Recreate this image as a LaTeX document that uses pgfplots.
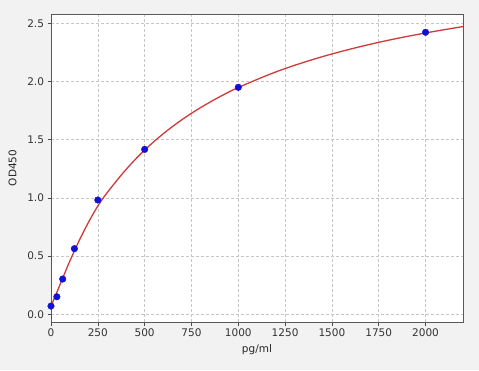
\documentclass[border=0pt]{standalone}
\usepackage{fontspec}
\setmainfont{DejaVu Sans}
\usepackage{pgfplots}
\pgfplotsset{compat=1.18}
\definecolor{bg}{HTML}{F2F2F2}
\definecolor{curvered}{HTML}{D03A3A}
\definecolor{ptblue}{HTML}{1010D8}
\begin{document}
\begin{tikzpicture}[x=1pt,y=1pt]
\fill[bg] (0,0) rectangle (479,370);
\begin{axis}[
  at={(51pt,48pt)}, anchor=south west,
  scale only axis, width=412pt, height=308pt,
  xmin=0, xmax=2200, ymin=-0.066, ymax=2.58,
  xtick={0,250,500,750,1000,1250,1500,1750,2000},
  ytick={0,0.5,1.0,1.5,2.0,2.5},
  yticklabel style={/pgf/number format/.cd,fixed,fixed zerofill,precision=1},
  xticklabel style={/pgf/number format/.cd,fixed,1000 sep={}},
  /pgf/number format/assume math mode=true,
  tick label style={font=\fontsize{10.5}{12}\selectfont, text=black!80},
  label style={font=\fontsize{10.5}{12}\selectfont, text=black!85},
  xlabel={pg/ml}, ylabel={OD450},
  xlabel style={yshift=-1pt},
  ylabel style={yshift=4pt},
  tick align=outside, tick pos=left,
  major tick length=3.5pt,
  every tick/.style={black!70, line width=0.6pt},
  axis line style={black!65, line width=0.8pt},
  axis background/.style={fill=white},
  grid=major,
  major grid style={dash pattern=on 3pt off 2pt, gray!45, line width=0.5pt},
  clip=true,
]
\addplot[curvered, line width=1.3pt, smooth, tension=0.6] coordinates {
(0,0.07) (25,0.165) (50,0.262) (75,0.360) (100,0.455) (150,0.632) (200,0.790)
(250,0.930) (300,1.045) (400,1.243) (500,1.411) (600,1.552) (700,1.673)
(800,1.777) (900,1.868) (1000,1.948) (1200,2.082) (1400,2.190) (1600,2.279)
(1800,2.354) (2000,2.417) (2200,2.472)
};
\addplot[only marks, mark=*, mark size=3.3pt, ptblue, mark options={fill=ptblue, draw=ptblue}] coordinates {
(0,0.071) (31.25,0.151) (62.5,0.303) (125,0.564) (250,0.982) (500,1.417) (1000,1.95) (2000,2.423)
};
\end{axis}
\end{tikzpicture}
\end{document}
